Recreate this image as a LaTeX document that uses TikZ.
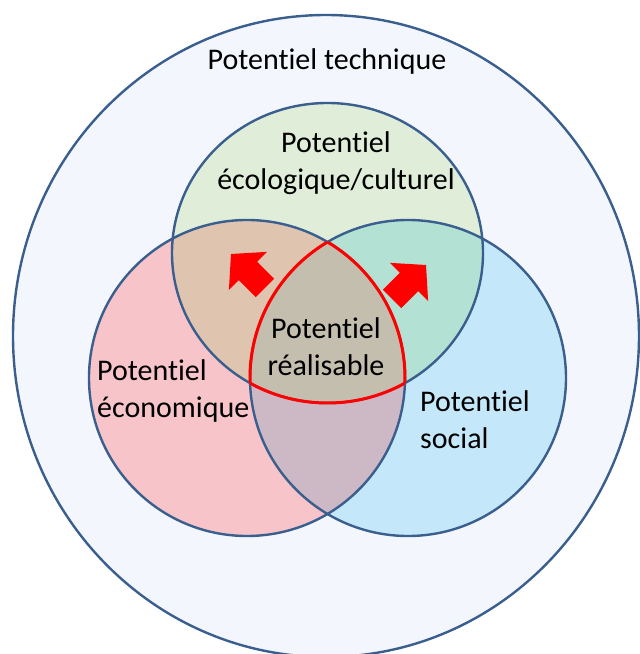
\documentclass[tikz,border=0pt]{standalone}
\usepackage{fontspec}
\setmainfont{Carlito}[Ligatures={NoCommon}]
\definecolor{ringblue}{HTML}{3A5F8E}
\definecolor{techfill}{HTML}{F3F6FC}
\definecolor{ecofill}{HTML}{DFEDD9}
\definecolor{econfill}{HTML}{F6C4C9}
\definecolor{socfill}{HTML}{C4E8F9}
\definecolor{ecoecon}{HTML}{DFC5AF}
\definecolor{ecosoc}{HTML}{B3E1D3}
\definecolor{econsoc}{HTML}{CDB8C6}
\definecolor{allthree}{HTML}{C4BEAF}
\definecolor{hot}{HTML}{FF0000}
\tikzset{
  ring/.style={draw=ringblue, line width=2.4pt},
  edge/.style={draw=hot, line width=3pt},
  label/.style={font=\fontsize{30}{37}\selectfont, inner sep=0pt, text=black},
  blockarrow/.style={fill=hot}
}
\newcommand{\R}{158}
% shapes of the three potentials
\newcommand{\ecoshape}{(327.5,401) ellipse [x radius=155.5, y radius=150]}
\newcommand{\econshape}{(247,276) circle (\R)}
\newcommand{\socshape}{(408,276) circle (\R)}
\begin{document}
\begin{tikzpicture}[x=1pt,y=1pt]
\useasboundingbox (0,0) rectangle (640,654);

% outer ring: technical potential
\draw[ring, fill=techfill] (326,318) ellipse [x radius=313, y radius=321];

% single circles
\fill[ecofill] \ecoshape;
\fill[econfill] \econshape;
\fill[socfill] \socshape;

% pairwise overlaps
\begin{scope}
  \clip \ecoshape;
  \fill[ecoecon] \econshape;
\end{scope}
\begin{scope}
  \clip \ecoshape;
  \fill[ecosoc] \socshape;
\end{scope}
\begin{scope}
  \clip \econshape;
  \fill[econsoc] \socshape;
\end{scope}
% triple overlap
\begin{scope}
  \clip \ecoshape;
  \clip \econshape;
  \fill[allthree] \socshape;
\end{scope}

% circle outlines
\draw[ring] \ecoshape;
\draw[ring] \econshape;
\draw[ring] \socshape;

% red border of the feasible potential
\begin{scope}
  \clip \econshape;
  \clip \ecoshape;
  \draw[edge] \socshape;
\end{scope}
\begin{scope}
  \clip \socshape;
  \clip \ecoshape;
  \draw[edge] \econshape;
\end{scope}
\begin{scope}
  \clip \socshape;
  \clip \econshape;
  \draw[edge] \ecoshape;
\end{scope}

% block arrows pointing outwards
\fill[blockarrow, shift={(231,400)}, rotate=135]
  (0,0) -- (-24,27) -- (-24,13) -- (-48,13) -- (-48,-13) -- (-24,-13) -- (-24,-27) -- cycle;
\fill[blockarrow, shift={(426,389)}, rotate=45]
  (0,0) -- (-24,27) -- (-24,13) -- (-48,13) -- (-48,-13) -- (-24,-13) -- (-24,-27) -- cycle;

% labels
\node[label] (tech) at (327,592) {Potentiel technique};
\node[label, align=center] (eco) at (336,490.5) {Potentiel\\écologique/culturel};
\node[label, align=center] (real) at (326,307.5) {Potentiel\\réalisable};
\node[label, align=left, anchor=west] (econ) at (97,262.5) {Potentiel\\économique};
\node[label, align=left, anchor=west] (soc) at (420,234) {Potentiel\\social};
\end{tikzpicture}
\end{document}
